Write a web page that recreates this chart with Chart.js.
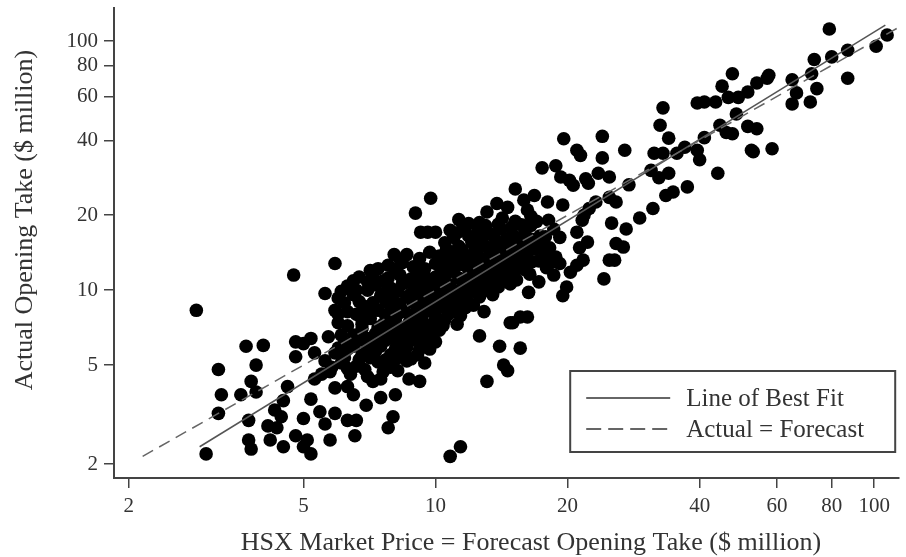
<!DOCTYPE html>
<html>
<head>
<meta charset="utf-8">
<script src="https://cdn.jsdelivr.net/npm/chart.js@4.4.0/dist/chart.umd.min.js"></script>
<style>
  html, body { margin: 0; padding: 0; background: #fff; }
</style>
</head>
<body>
<canvas id="hsxChart" width="906" height="557"></canvas>
<script>
// [HSX forecast ($m), actual opening take ($m)] for each film
const films = [
  [4.75, 11.5], [5.9, 12.8], [5.6, 9.7], [2.85, 8.3], [3.7, 5.95], [4.05, 6.0], [4.8, 6.2], [5.0, 6.1], [4.8, 5.4], [3.2, 4.8],
  [3.9, 5.0], [3.8, 4.3], [3.9, 3.9], [3.6, 3.8], [3.25, 3.8], [3.2, 3.2], [3.75, 3.0], [4.6, 4.1], [4.5, 3.6], [4.3, 3.3],
  [4.45, 3.1], [4.15, 2.85], [4.35, 2.8], [4.2, 2.5], [4.5, 2.35], [4.8, 2.6], [5.0, 3.05], [5.2, 3.65], [5.45, 3.25], [5.6, 2.9],
  [5.0, 2.35], [5.2, 2.2], [5.1, 2.5], [3.75, 2.5], [3.8, 2.3], [3.0, 2.2], [5.75, 2.5], [5.3, 5.6], [5.6, 5.2], [5.5, 4.6],
  [5.8, 4.9], [5.3, 4.4], [5.7, 6.5], [5.2, 6.4],
  [6.0, 7.4], [6.1, 6.6], [5.9, 5.6], [5.75, 4.7], [5.9, 4.05], [6.3, 4.1], [6.5, 3.8], [5.9, 3.2], [6.3, 3.0], [6.6, 3.0],
  [6.55, 2.6], [6.95, 3.45], [7.5, 3.7], [8.1, 3.8], [7.2, 4.3], [8.0, 3.1], [7.8, 2.8], [9.2, 4.3], [8.7, 4.4], [9.45, 5.1],
  [8.2, 4.75], [12.6, 6.55], [14.0, 5.95], [14.3, 5.0], [14.6, 4.75], [13.1, 4.3], [15.6, 5.85], [15.0, 7.4], [11.4, 2.35], [10.8, 2.15],
  [9.75, 23.4], [9.0, 20.4], [9.25, 17.1], [9.6, 17.1], [10.0, 17.1], [9.7, 14.2], [13.8, 22.3], [13.1, 20.6], [11.9, 18.5], [15.9, 23.0],
  [11.2, 17.0], [8.05, 13.9], [7.4, 12.2], [8.6, 13.9], [9.45, 12.2], [7.8, 12.6], [5.9, 8.3], [7.0, 10.0], [6.75, 7.8], [12.9, 8.2],
  [14.8, 7.4], [15.6, 7.8],
  [45, 66], [39.5, 56.5], [41, 57], [43.5, 57], [33, 54], [32.5, 46], [34, 40.8], [31.5, 35.5], [33, 35.5], [35.5, 35.5],
  [37, 37.5], [39.5, 36.5], [41, 41], [44.5, 46], [40, 33.4], [44, 29.5], [31, 30.3], [34, 29.5], [27, 36.5], [24, 41.5],
  [24, 34], [19.6, 40.6], [21, 36.5], [21.4, 34.8], [17.5, 31], [18.8, 31.6], [19.3, 28.5], [23.5, 29.5], [24.9, 28.5], [22, 28],
  [37.5, 26], [34.8, 24.8], [33.5, 24], [31.3, 21.3], [29.2, 19.5], [27.6, 26.5], [32.3, 28.3], [27.2, 17.6], [25.2, 18.6], [25.8, 15.4],
  [26.8, 14.9], [24.9, 13.2], [25.6, 13.2], [24.2, 11.1], [22.2, 15.6], [21.3, 14.8], [21, 17.1], [21.7, 13.2], [21, 12.6], [20.3, 11.8],
  [19.9, 10.3], [19.5, 9.5], [18.6, 11.5], [17.2, 10.8], [16.3, 9.8], [16.2, 7.8], [19.5, 22], [22.3, 26.9], [25.8, 22.6], [24.9, 23.6],
  [23.2, 22.6], [22.4, 21.3], [21.8, 20], [21.6, 19.1], [18, 22.6], [16.8, 24], [16.2, 21], [18.1, 19.1], [18.6, 17.6], [19.2, 16.3],
  [20.6, 26.4], [20.2, 27.6], [16.5, 18.2], [17.3, 16.5], [16.1, 15.2], [17.8, 14.1], [16.6, 13.0], [17.9, 12.3], [16.4, 11.6],
  [79, 112], [107, 106], [101, 95.5], [87, 92], [80, 86.5], [73, 84.5], [72, 74], [87, 71], [65, 70], [66.5, 62],
  [74, 64.5], [65, 56], [71.5, 57], [47.5, 74], [46.5, 59.5], [49, 59.5], [51.5, 62.5], [54, 68], [57, 71], [57.5, 73],
  [48.5, 51], [46, 43], [47.5, 42.5], [51.5, 45.5], [54, 44.5], [52.5, 36.5], [53, 36], [58.5, 37],
  [11.3, 19.2], [12.6, 18.7], [14.2, 19.5], [15.2, 18.9], [16.5, 19.8], [10.8, 17.4], [12.5, 17.3], [13.3, 16.9], [14.1, 17.6], [15.0, 16.7],
  [16.0, 17.2], [10.5, 15.5], [11.3, 15.0], [12.1, 15.6], [12.9, 15.1], [13.7, 15.4], [14.6, 14.9], [15.4, 15.6], [17.4, 15.3], [10.2, 13.7],
  [10.9, 14.1], [11.7, 13.8], [12.4, 14.3], [13.2, 13.6], [14.0, 14.1], [14.9, 13.7], [15.8, 14.2], [18.8, 13.6], [8.4, 12.9], [8.9, 12.4],
  [10.0, 12.8], [10.7, 12.3], [11.5, 12.7], [12.2, 12.4], [13.0, 12.9], [13.8, 12.5], [14.7, 12.8], [15.5, 12.3], [19.2, 12.8], [6.7, 11.3],
  [7.2, 11.6], [7.8, 11.2], [8.3, 11.5], [8.8, 11.1], [9.4, 11.6], [10.0, 11.3], [10.6, 11.7], [11.3, 11.2], [12.0, 11.5], [12.8, 11.1],
  [13.6, 11.6], [14.4, 11.3], [15.3, 11.0], [6.3, 10.4], [7.3, 10.5], [7.9, 10.2], [8.4, 10.6], [9.0, 10.0], [9.6, 10.4], [10.2, 10.1],
  [10.8, 10.5], [11.5, 10.2], [12.2, 10.6], [13.0, 10.0], [13.9, 10.3], [14.8, 10.6], [6.0, 9.3], [6.5, 9.6], [7.5, 9.5], [8.0, 9.1],
  [8.6, 9.4], [9.2, 9.0], [9.8, 9.4], [10.4, 9.2], [11.1, 9.5], [11.8, 9.1], [12.6, 9.4], [6.3, 8.2], [6.9, 8.6], [7.4, 8.3],
  [7.9, 8.6], [8.5, 8.2], [9.1, 8.5], [9.7, 8.3], [10.3, 8.6], [11.0, 8.2], [11.7, 8.5], [7.1, 7.7], [7.6, 7.3], [8.1, 7.6],
  [8.7, 7.4], [9.3, 7.7], [9.9, 7.4], [10.5, 7.6], [11.2, 7.3], [6.8, 7.0], [7.3, 6.7], [7.8, 6.9], [8.3, 6.6], [8.9, 6.9],
  [9.5, 6.7], [10.2, 6.9], [6.2, 6.1], [6.7, 6.3], [7.2, 6.0], [7.7, 6.3], [8.2, 6.1], [8.8, 6.3], [9.4, 6.0], [10.0, 6.2],
  [6.3, 5.8], [6.8, 5.5], [7.3, 5.7], [7.9, 5.5], [8.5, 5.7], [9.1, 5.5], [6.1, 5.1], [6.6, 4.95], [7.4, 5.15], [7.9, 4.9],
  [8.6, 5.2], [6.4, 4.6], [7.0, 4.5], [7.6, 4.7], [15.2, 25.5], [14.6, 21.5],
  [11.6, 18.0], [13.0, 18.2], [13.9, 18.4], [14.9, 17.9], [15.7, 18.3], [17.0, 18.9], [11.0, 16.3], [11.9, 16.5], [12.8, 16.2], [13.6, 16.4],
  [14.5, 16.1], [15.5, 16.2], [16.6, 16.0], [17.8, 16.4], [10.6, 14.6], [11.5, 14.5], [12.3, 14.8], [13.2, 14.7], [14.1, 14.5], [15.0, 14.8],
  [16.0, 14.5], [16.9, 14.6], [18.2, 14.8], [8.3, 13.3], [9.2, 13.4], [10.5, 13.1], [11.2, 13.3], [12.0, 13.1], [12.8, 13.3], [13.6, 13.2],
  [14.4, 13.0], [15.3, 13.2], [16.2, 13.4], [17.2, 13.1], [18.3, 12.9], [7.1, 12.0], [8.1, 12.1], [9.2, 11.9], [10.3, 12.0], [11.0, 11.9],
  [11.9, 12.1], [12.6, 11.9], [13.4, 12.1], [14.2, 12.0], [15.1, 11.8], [16.0, 12.1], [6.5, 10.9], [7.0, 10.8], [7.6, 10.9], [8.6, 10.8],
  [9.2, 10.9], [9.8, 10.8], [10.4, 10.9], [11.8, 10.8], [12.5, 10.9], [13.3, 10.7], [14.1, 10.9], [6.1, 9.9], [6.6, 10.0], [7.7, 9.8],
  [8.2, 9.9], [8.8, 9.7], [9.4, 9.8], [10.0, 9.7], [10.6, 9.9], [11.3, 9.8], [12.0, 9.9], [12.7, 9.8], [13.5, 9.6], [6.2, 8.9],
  [6.7, 9.0], [7.2, 8.9], [7.7, 9.0], [8.3, 8.8], [8.9, 8.9], [9.5, 8.8], [10.1, 8.9], [10.7, 8.8], [11.4, 8.9], [12.2, 8.7],
  [6.0, 8.0], [6.6, 8.0], [7.1, 8.1], [7.7, 7.9], [8.2, 8.0], [8.8, 7.9], [9.4, 8.1], [10.0, 7.9], [10.7, 8.0], [11.4, 7.9],
  [6.3, 7.2], [6.8, 7.3], [7.4, 7.1], [8.0, 7.2], [8.5, 7.0], [9.1, 7.2], [9.7, 7.1], [10.4, 7.2], [6.5, 6.6], [7.0, 6.4],
  [7.5, 6.5], [8.0, 6.4], [8.6, 6.6], [9.2, 6.4], [9.8, 6.5], [6.0, 5.85], [6.5, 5.95], [7.0, 5.8], [7.5, 5.95], [8.1, 5.8],
  [8.6, 5.9], [9.2, 5.8], [9.7, 5.8], [6.2, 5.35], [6.7, 5.25], [7.1, 5.35], [7.7, 5.25], [8.2, 5.35], [8.8, 5.3], [6.3, 4.85],
  [6.9, 4.8], [7.5, 4.4]
];

// end points of the two reference lines
const bestFitX = [2.9, 106];
const bestFitY = [2.35, 116];
const equalX = [2.15, 113];
const equalY = [2.15, 113];

const tickValues = [2, 5, 10, 20, 40, 60, 80, 100];
const xTitle = 'HSX Market Price = Forecast Opening Take ($ million)';
const yTitle = 'Actual Opening Take ($ million)';
const fitLabel = 'Line of Best Fit';
const equalLabel = 'Actual = Forecast';

const serif = 'Liberation Serif';

// axis titles, placed where the original puts them
const axisTitles = {
  id: 'axisTitles',
  afterDraw(chart) {
    const ctx = chart.ctx;
    ctx.save();
    ctx.fillStyle = '#333';
    ctx.font = '26px "' + serif + '"';
    ctx.textAlign = 'center';
    ctx.textBaseline = 'middle';
    ctx.fillText(xTitle, 531, 543);
    ctx.translate(25, 220);
    ctx.rotate(-Math.PI / 2);
    ctx.fillText(yTitle, 0, 0);
    ctx.restore();
  }
};

// legend drawn as a framed box in the lower right corner
const boxLegend = {
  id: 'boxLegend',
  afterDraw(chart) {
    const ctx = chart.ctx;
    const area = chart.chartArea;
    const w = 325, h = 81;
    const left = area.right - 329, top = area.bottom - 107;
    ctx.save();
    ctx.fillStyle = '#fff';
    ctx.fillRect(left, top, w, h);
    ctx.strokeStyle = '#444';
    ctx.lineWidth = 2;
    ctx.strokeRect(left, top, w, h);

    const rows = chart.data.datasets.filter(d => d.showLine);
    rows.forEach((ds, i) => {
      const y = top + 27 + i * 31;
      ctx.beginPath();
      ctx.setLineDash(ds.borderDash ? [15, 7] : []);
      ctx.strokeStyle = '#333';
      ctx.lineWidth = 1.6;
      ctx.moveTo(left + 16, y);
      ctx.lineTo(left + 100, y);
      ctx.stroke();
      ctx.setLineDash([]);
      ctx.fillStyle = '#333';
      ctx.font = '25px "' + serif + '"';
      ctx.textBaseline = 'middle';
      ctx.fillText(ds.label, left + 116, y + 1);
    });
    ctx.restore();
  }
};

const setTicks = scale => {
  scale.ticks = tickValues.map(v => ({ value: v }));
};

const ctx = document.getElementById('hsxChart').getContext('2d');
new Chart(ctx, {
  type: 'scatter',
  data: {
    datasets: [
      {
        label: 'Films',
        data: films.map(f => ({ x: f[0], y: f[1] })),
        backgroundColor: '#000',
        borderWidth: 0,
        pointRadius: 6.8,
        pointHoverRadius: 6.8,
        order: 2
      },
      {
        label: fitLabel,
        data: bestFitX.map((x, i) => ({ x: x, y: bestFitY[i] })),
        showLine: true,
        borderColor: '#555',
        borderWidth: 1.5,
        pointRadius: 0,
        order: 1
      },
      {
        label: equalLabel,
        data: equalX.map((x, i) => ({ x: x, y: equalY[i] })),
        showLine: true,
        borderColor: '#666',
        borderWidth: 1.5,
        borderDash: [12, 7],
        pointRadius: 0,
        order: 0
      }
    ]
  },
  options: {
    responsive: false,
    animation: false,
    layout: { padding: { top: 8, right: 0, bottom: 0, left: 0 } },
    plugins: {
      legend: { display: false },
      tooltip: { enabled: false }
    },
    scales: {
      x: {
        type: 'logarithmic',
        min: 1.85,
        max: 114,
        afterBuildTicks: setTicks,
        afterFit: s => { s.height = 79; s.paddingLeft = 0; s.paddingRight = 0; },
        ticks: {
          callback: v => String(v),
          autoSkip: false,
          maxRotation: 0,
          padding: 6,
          color: '#333',
          font: { family: serif, size: 21 }
        },
        grid: { drawOnChartArea: false, tickLength: 10, color: '#444', lineWidth: 1.5 },
        border: { color: '#444', width: 2 }
      },
      y: {
        type: 'logarithmic',
        min: 1.76,
        max: 136,
        afterBuildTicks: setTicks,
        afterFit: s => { s.width = 114; s.paddingTop = 0; s.paddingBottom = 0; },
        ticks: {
          callback: v => String(v),
          autoSkip: false,
          padding: 6,
          color: '#333',
          font: { family: serif, size: 21 }
        },
        grid: { drawOnChartArea: false, tickLength: 10, color: '#444', lineWidth: 1.5 },
        border: { color: '#444', width: 2 }
      }
    }
  },
  plugins: [axisTitles, boxLegend]
});
</script>
</body>
</html>
